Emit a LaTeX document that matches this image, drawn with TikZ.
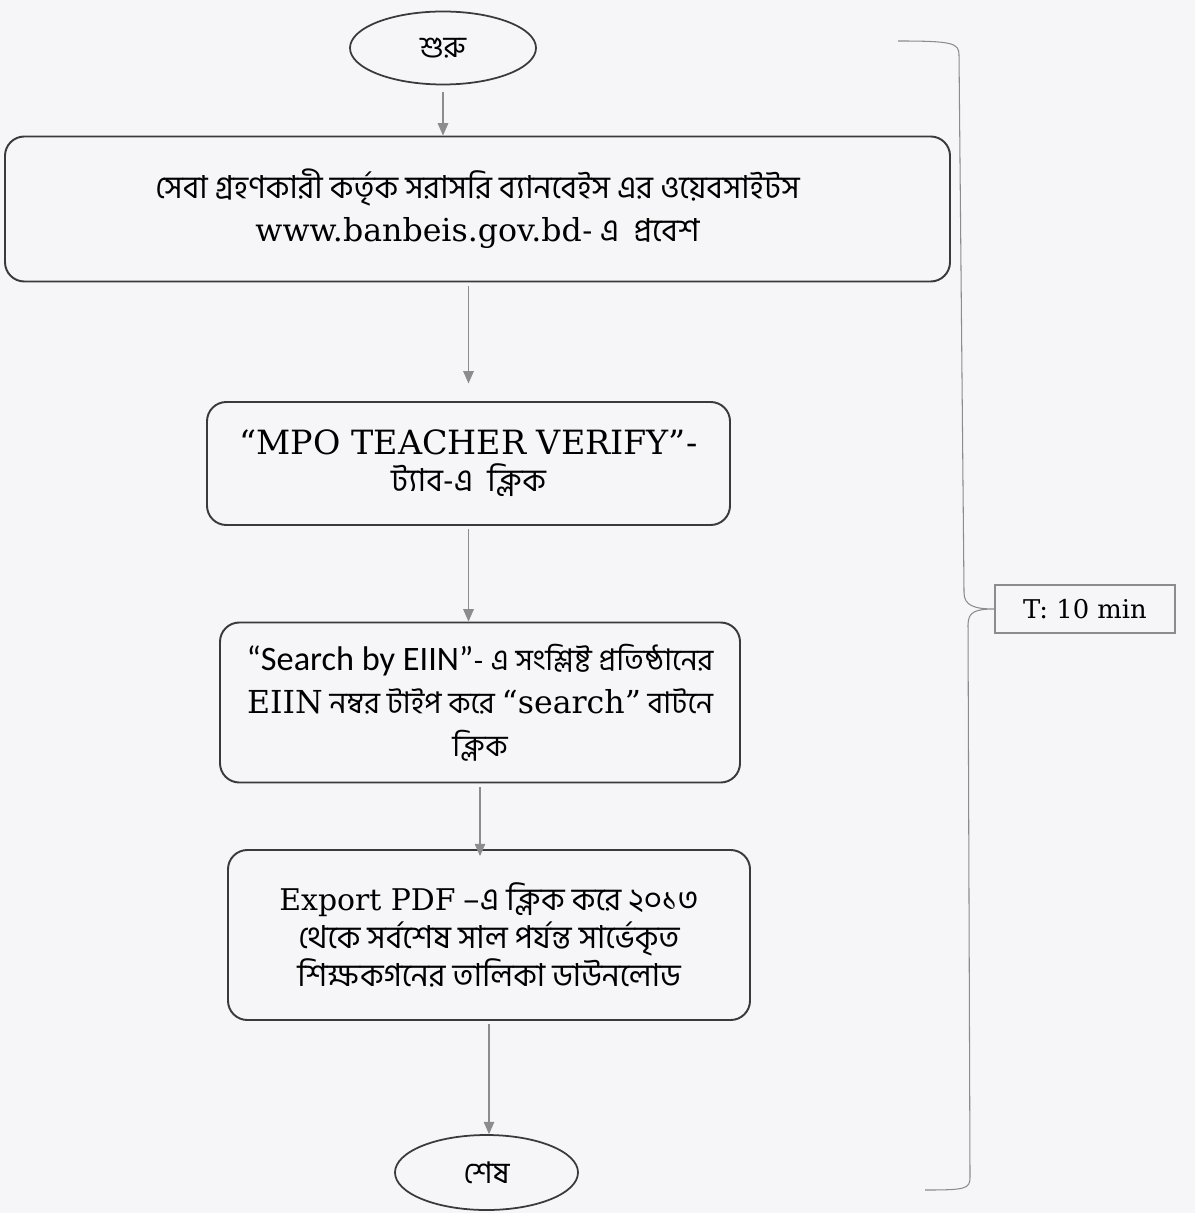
\documentclass[tikz,border=0pt]{standalone}
\usepackage{fontspec}
\usetikzlibrary{shapes.geometric,arrows.meta}
\newfontfamily\bn[Script=Bengali]{Hind Siliguri}
\newfontfamily\slab{DejaVu Serif}
\newfontfamily\calib{Carlito}
\definecolor{paper}{HTML}{F6F6F8}
\definecolor{ink}{HTML}{3A3A3A}
\definecolor{lgray}{HTML}{8C8C8C}
\begin{document}
\begin{tikzpicture}[semithick,
    term/.style={ellipse, draw=ink, line width=1pt, inner sep=0pt},
    stepbox/.style={rectangle, rounded corners=11pt, draw=ink, line width=1.1pt, align=center, inner sep=0pt},
    arr/.style={lgray, line width=0.6pt, -{Triangle[length=7pt,width=6pt]}},
    brace/.style={lgray, line width=0.6pt}]
      % page
      \fill[paper] (0,0) rectangle (23.9,-24.26);
      \useasboundingbox (0,0) rectangle (23.9,-24.26);

      % start and end
      \node (S) [term, minimum width=3.72cm, minimum height=1.46cm,
          font=\bn\fontsize{17}{20}\selectfont] at (8.86,-0.96) {শুরু};
      \node (E) [term, minimum width=3.66cm, minimum height=1.5cm,
          font=\bn\fontsize{17}{20}\selectfont] at (9.73,-23.45) {শেষ};

      % steps
      \node (B1) [stepbox, minimum width=18.9cm, minimum height=2.9cm,
          font=\bn\fontsize{18}{24.5}\selectfont] at (9.55,-4.18)
          {সেবা গ্রহণকারী কর্তৃক সরাসরি ব্যানবেইস এর ওয়েবসাইটস\\
           {\slab\fontsize{18}{24.5}\selectfont www.banbeis.gov.bd}- এ\ \ প্রবেশ};
      \node (B2) [stepbox, minimum width=10.46cm, minimum height=2.46cm,
          font=\bn\fontsize{18}{21}\selectfont] at (9.37,-9.27)
          {{\slab\fontsize{19}{21}\selectfont “MPO TEACHER VERIFY”-}\\
           ট্যাব-এ\ \ ক্লিক};
      \node (B3) [stepbox, minimum width=10.4cm, minimum height=3.2cm,
          font=\bn\fontsize{17}{24.5}\selectfont] at (9.6,-14.05)
          {{\calib\fontsize{19.5}{24.5}\selectfont “Search by EIIN”}- এ সংশ্লিষ্ট প্রতিষ্ঠানের\\
           {\slab\fontsize{18}{24.5}\selectfont EIIN} নম্বর টাইপ করে {\slab\fontsize{18}{24.5}\selectfont “search”} বাটনে\\
           ক্লিক};
      \node (B4) [stepbox, minimum width=10.44cm, minimum height=3.4cm,
          font=\bn\fontsize{18}{21.6}\selectfont] at (9.78,-18.7)
          {{\slab\fontsize{17}{21.6}\selectfont Export PDF} –এ ক্লিক করে ২০১৩\\
           থেকে সর্বশেষ সাল পর্যন্ত সার্ভেকৃত\\
           শিক্ষকগনের তালিকা ডাউনলোড};

      % time box
      \node (T) [draw=lgray, line width=0.6pt, minimum width=3.6cm, minimum height=0.96cm,
          font=\slab\fontsize{14.7}{16}\selectfont] at (21.7,-12.18) {T: 10 min};

      % arrows
      \path [arr, shorten <=4pt] (S.south) edge (S.south |- B1.north);
      \path [arr, shorten <=2pt, shorten >=10pt] (B1.south -| B2.north) edge (B2.north);
      \path [arr, shorten <=2pt] (B2.south) edge (B2.south |- B3.north);
      \path [arr, shorten <=2pt, shorten >=-4pt] (B3.south) edge (B3.south |- B4.north);
      \path [arr, shorten <=2pt] (B4.south) edge (B4.south |- E.north);

      % brace
      \draw [brace] (17.96,-0.82) .. controls (19.05,-0.82) and (19.18,-0.86) .. (19.18,-1.1)
          -- (19.28,-11.85) .. controls (19.28,-12.12) and (19.5,-12.18) .. (T.west)
          .. controls (19.5,-12.18) and (19.36,-12.24) .. (19.36,-12.5)
          -- (19.4,-23.55) .. controls (19.4,-23.78) and (19.3,-23.8) .. (18.5,-23.8);
    \end{tikzpicture}
\end{document}
